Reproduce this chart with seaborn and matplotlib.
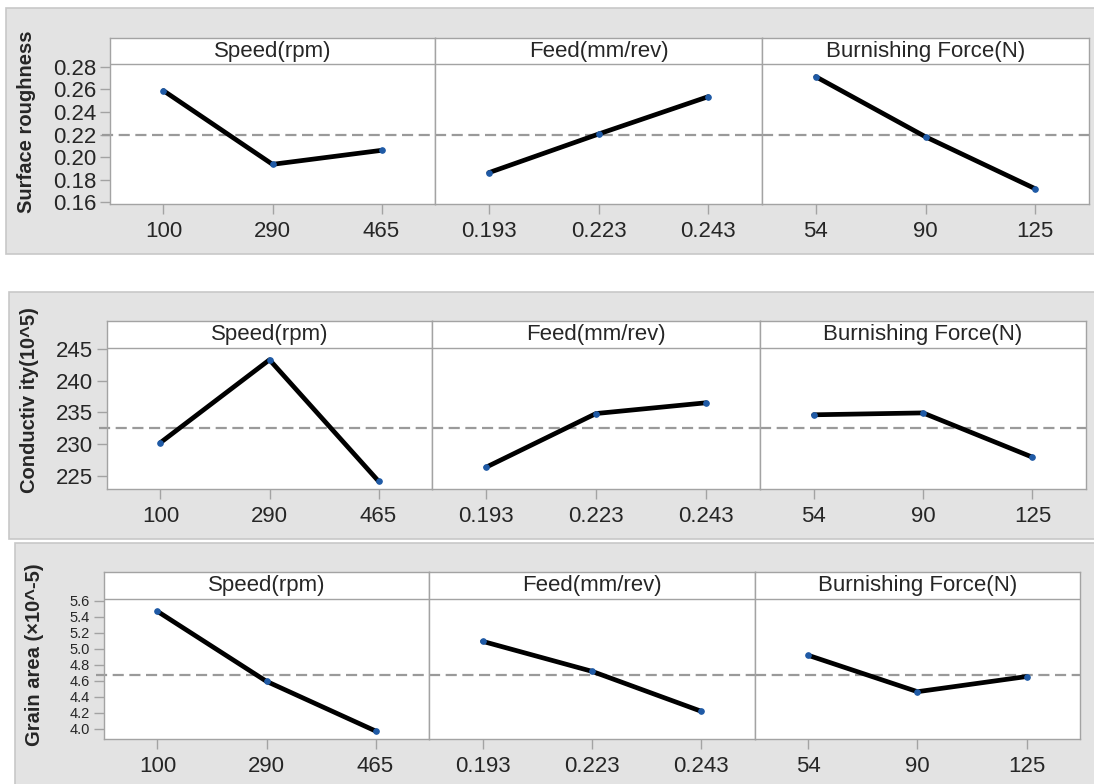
import numpy as np
import pandas as pd
import seaborn as sns
import matplotlib.pyplot as plt
from matplotlib.patches import Rectangle

sns.set_style('white')
plt.rcParams['font.family'] = ['Liberation Sans', 'DejaVu Sans']

factors = ['Speed(rpm)', 'Feed(mm/rev)', 'Burnishing Force(N)']
speed_levels = ['100', '290', '465']
feed_levels = ['0.193', '0.223', '0.243']
force_levels = ['54', '90', '125']

roughness_speed = [0.2588, 0.1936, 0.2060]
roughness_feed = [0.1862, 0.2204, 0.2535]
roughness_force = [0.2712, 0.2180, 0.1720]

conductivity_speed = [230.2, 243.3, 224.1]
conductivity_feed = [226.3, 234.8, 236.5]
conductivity_force = [234.6, 234.9, 227.9]

grain_speed = [5.467, 4.594, 3.975]
grain_feed = [5.093, 4.719, 4.220]
grain_force = [4.918, 4.465, 4.654]

roughness_ticks = [0.16, 0.18, 0.20, 0.22, 0.24, 0.26, 0.28]
conductivity_ticks = [225, 230, 235, 240, 245]
grain_ticks = [4.0, 4.2, 4.4, 4.6, 4.8, 5.0, 5.2, 5.4, 5.6]

W, H = 1094, 784
fig = plt.figure(figsize=(W / 100, H / 100), dpi=100)

frame_col = '#a3a3a3'
grey_bg = '#e3e3e3'

# grey background boxes (pixel coords: x0, top, bottom)
for bx, btop, bbot in [(6, 8, 254), (9, 292, 539), (15, 543, 800)]:
    fig.patches.append(Rectangle((bx / W, 1 - bbot / H), (1110 - bx) / W, (bbot - btop) / H,
                                 transform=fig.transFigure, facecolor=grey_bg,
                                 edgecolor='#c8c8c8', lw=1.2, zorder=-5))

panels = [
    dict(label='Surface roughness', values=[roughness_speed, roughness_feed, roughness_force],
         ticks=roughness_ticks, fmt='%.2f', tsize=16, ylim=(0.1585, 0.2824),
         xs=[110, 435, 762, 1089], top=38, hdr=64, bottom=204, lab=(27, 122)),
    dict(label='Conductiv ity(10^5)', values=[conductivity_speed, conductivity_feed, conductivity_force],
         ticks=conductivity_ticks, fmt='%d', tsize=16, ylim=(222.87, 245.16),
         xs=[107, 432, 760, 1086], top=321, hdr=348, bottom=489, lab=(30, 400)),
    dict(label='Grain area (\u00d710^-5)', values=[grain_speed, grain_feed, grain_force],
         ticks=grain_ticks, fmt='%.1f', tsize=10.5, ylim=(3.875, 5.621),
         xs=[104, 429, 755, 1080], top=572, hdr=599, bottom=739, lab=(35, 655)),
]
level_sets = [speed_levels, feed_levels, force_levels]

for p in panels:
    lo, hi = p['ylim']
    full_hi = lo + (hi - lo) * (p['bottom'] - p['top']) / (p['bottom'] - p['hdr'])
    mean = np.mean(np.concatenate(p['values']))
    for i, (name, levels, vals) in enumerate(zip(factors, level_sets, p['values'])):
        x0, x1 = p['xs'][i], p['xs'][i + 1]
        ax = fig.add_axes([x0 / W, 1 - p['bottom'] / H, (x1 - x0) / W, (p['bottom'] - p['top']) / H])
        ax.set_facecolor('white')
        df = pd.DataFrame({'level': levels, 'value': vals})
        ax.axhline(mean, color='#9a9a9a', lw=1.6, ls=(0, (5, 2.5)), zorder=1,
                   xmin=-0.025 if i == 0 else 0, clip_on=(i != 0))
        sns.lineplot(data=df, x='level', y='value', ax=ax, sort=False, color='black',
                     lw=3.4, marker='o', markersize=4, markerfacecolor='#1f5aa6',
                     markeredgecolor='#1f5aa6', zorder=3)
        ax.axhline(hi, color=frame_col, lw=1)
        ax.set_xlim(-0.49, 2.49)
        ax.set_ylim(lo, full_hi)
        ax.text(0.5, 1 - (p['hdr'] - p['top']) / 2 / (p['bottom'] - p['top']), name,
                transform=ax.transAxes, ha='center', va='center', fontsize=16)
        ax.set_xlabel('')
        ax.set_ylabel('')
        for s in ax.spines.values():
            s.set_color(frame_col)
            s.set_linewidth(1)
        ax.tick_params(axis='x', length=7, width=1, color=frame_col, pad=5, labelsize=16, bottom=True)
        if i == 0:
            ax.set_yticks(p['ticks'])
            ax.set_yticklabels([p['fmt'] % t for t in p['ticks']])
            ax.tick_params(axis='y', length=7, width=1, color=frame_col, pad=3,
                           labelsize=p['tsize'], left=True)
        else:
            ax.set_yticks([])
    fig.text(p['lab'][0] / W, 1 - p['lab'][1] / H, p['label'], rotation=90,
             ha='center', va='center', fontsize=14.5, fontweight='bold')

fig.savefig('out.png', dpi=100)
